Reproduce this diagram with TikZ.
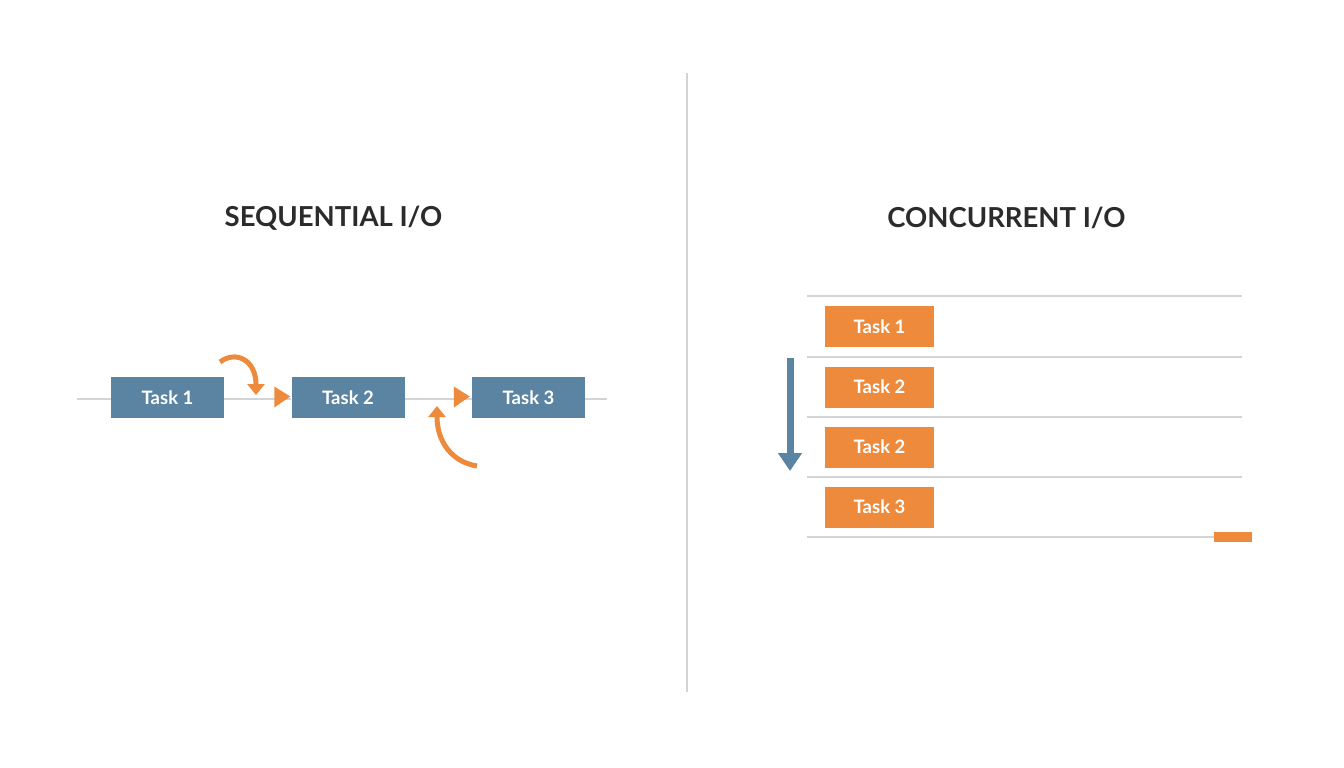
\documentclass[tikz,border=0pt]{standalone}
\usepackage{fontspec}
\setmainfont{Lato}
\usetikzlibrary{arrows.meta}
\definecolor{slate}{HTML}{5B84A3}
\definecolor{amber}{HTML}{EE8A3C}
\definecolor{rule}{HTML}{D2D4D6}
\definecolor{ink}{HTML}{2B2B2B}
\tikzset{
  seqbox/.style={fill=slate, draw=none, minimum width=113pt, minimum height=41pt, inner sep=0pt,
    text=white, font=\fontsize{18.5}{18.5}\selectfont\bfseries},
  conbox/.style={fill=amber, draw=none, minimum width=109pt, minimum height=41pt, inner sep=0pt,
    text=white, font=\fontsize{18.5}{18.5}\selectfont\bfseries},
  title/.style={text=ink, font=\fontsize{27.5}{27.5}\selectfont\bfseries, inner sep=0pt},
  track/.style={draw=rule, line width=2pt},
  hop/.style={draw=amber, line width=5pt, -{Triangle[width=17pt,length=11pt]}},
}
\begin{document}
\begin{tikzpicture}[x=1pt,y=-1pt]
  \useasboundingbox[fill=white] (0,0) rectangle (1344,768);

  % divider
  \coordinate (dtop) at (687,73);
  \coordinate (dbot) at (687,692);
  \draw[draw=rule, line width=2.6pt] (dtop) -- (dbot);

  % titles
  \node[title] (seqtitle) at (333.5,218) {SEQUENTIAL I/O};
  \node[title] (contitle) at (1006.5,218) {CONCURRENT I/O};

  % sequential chain
  \node[seqbox] (s1) at (167.5,397.5) {Task 1};
  \node[seqbox] (s2) at (348,397.5) {Task 2};
  \node[seqbox] (s3) at (528.5,397.5) {Task 3};
  \coordinate (sl) at (77,398.5);
  \coordinate (sr) at (607,398.5);
  \draw[track] (sl) -- (s1.west |- sl);
  \draw[track] (s1.east |- sl) -- (s2.west |- sl);
  \draw[track] (s2.east |- sl) -- (s3.west |- sl);
  \draw[track] (s3.east |- sl) -- (sr);

  % arrowheads into tasks 2 and 3
  \fill[amber] ([xshift=-17pt,yshift=-10pt]s2.west) -- ([xshift=-1pt,yshift=1pt]s2.west) -- ([xshift=-17pt,yshift=11pt]s2.west) -- cycle;
  \fill[amber] ([xshift=-18pt,yshift=-10pt]s3.west) -- ([xshift=-2pt,yshift=1pt]s3.west) -- ([xshift=-18pt,yshift=11pt]s3.west) -- cycle;

  % curved hand-offs
  \coordinate (h1a) at (220,362);
  \coordinate (h1b) at (256,395);
  \draw[hop] (h1a) .. controls (236,350) and (256,360) .. (h1b);
  \coordinate (h2a) at (477,466);
  \coordinate (h2b) at (437,406);
  \draw[hop] (h2a) .. controls (452,462) and (437,442) .. (h2b);

  % concurrent lanes
  \foreach \k/\y in {0/296,1/356.5,2/416.5,3/477,4/537}{
    \coordinate (la\k) at (807,\y);
    \coordinate (lb\k) at (1242,\y);
    \draw[track] (la\k) -- (lb\k);
  }
  \node[conbox] (c1) at (879.5,326.5) {Task 1};
  \node[conbox] (c2) at (879.5,387) {Task 2};
  \node[conbox] (c3) at (879.5,447) {Task 2};
  \node[conbox] (c4) at (879.5,507) {Task 3};
  \node[fill=amber, minimum width=38pt, minimum height=9.5pt, inner sep=0pt] (tail) at (1233,537) {};

  % time arrow
  \coordinate (ta) at (790,358);
  \coordinate (tb) at (790,471);
  \draw[draw=slate, line width=7pt, -{Triangle[width=23pt,length=18pt]}] (ta) -- (tb);
\end{tikzpicture}
\end{document}
